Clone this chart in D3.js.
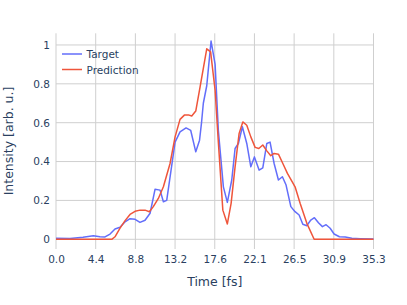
<script src="https://cdnjs.cloudflare.com/ajax/libs/d3/7.8.5/d3.min.js"></script>
<style>
  body { margin: 0; background: #fff; }
  text { font-family: "DejaVu Sans", sans-serif; fill: #2a3f5f; }
</style>
<svg id="chart" width="407" height="305"></svg>
<script>
// values
const targetTime = [0, 1.56, 3.00, 4.15, 4.89, 5.45, 6.01, 6.56, 7.12, 7.68, 8.23, 8.79, 9.34, 9.90,
  10.46, 11.01, 11.57, 11.94, 12.31, 13.24, 13.79, 14.46, 14.98, 15.54, 15.96, 16.18, 16.38, 16.76,
  17.24, 17.69, 18.05, 18.61, 19.05, 19.54, 19.91, 20.28, 20.72, 21.21, 21.66, 22.06, 22.58, 22.99,
  23.44, 23.80, 24.25, 24.73, 25.17, 25.58, 26.11, 26.58, 27.03, 27.44, 27.89, 28.33, 28.73, 29.18,
  29.62, 30.03, 30.48, 30.92, 31.51, 32.15, 32.89, 33.82, 35.3];
const targetValues = [0.005, 0.004, 0.01, 0.018, 0.013, 0.012, 0.027, 0.053, 0.062, 0.09, 0.106, 0.103, 0.087, 0.098,
  0.134, 0.257, 0.253, 0.193, 0.20, 0.50, 0.553, 0.573, 0.56, 0.45, 0.51, 0.60, 0.70, 0.79,
  1.02, 0.90, 0.56, 0.27, 0.19, 0.305, 0.467, 0.493, 0.579, 0.493, 0.373, 0.424, 0.356, 0.368,
  0.493, 0.50, 0.39, 0.305, 0.322, 0.279, 0.168, 0.142, 0.125, 0.077, 0.07, 0.099, 0.111, 0.085,
  0.065, 0.075, 0.057, 0.027, 0.013, 0.012, 0.005, 0.003, 0.001];

const predTime = [0, 6.20, 6.56, 7.12, 7.68, 8.23, 8.79, 9.34, 9.90, 10.38, 10.82, 11.38, 11.94, 12.68,
  13.24, 13.79, 14.27, 14.72, 15.09, 15.54, 16.02, 16.38, 16.76, 17.19, 17.69, 18.05, 18.55, 19.05,
  19.47, 19.91, 20.36, 20.77, 21.21, 21.66, 22.14, 22.55, 22.99, 23.44, 23.88, 24.25, 24.73, 25.22,
  25.73, 26.58, 27.14, 27.89, 28.70, 35.3];
const predValues = [0, 0, 0.013, 0.057, 0.096, 0.128, 0.144, 0.15, 0.15, 0.142, 0.168, 0.21, 0.27, 0.39,
  0.527, 0.617, 0.639, 0.64, 0.634, 0.66, 0.784, 0.88, 0.98, 0.964, 0.767, 0.50, 0.15, 0.079,
  0.185, 0.373, 0.545, 0.604, 0.587, 0.527, 0.473, 0.467, 0.485, 0.455, 0.43, 0.442, 0.438, 0.39,
  0.339, 0.27, 0.185, 0.082, 0, 0];

const xTicks = [0, 4.4125, 8.825, 13.2375, 17.65, 22.0625, 26.475, 30.8875, 35.3];
const xTickLabels = ["0.0", "4.4", "8.8", "13.2", "17.6", "22.1", "26.5", "30.9", "35.3"];
const yTicks = [0, 0.2, 0.4, 0.6, 0.8, 1];
const yTickLabels = ["0", "0.2", "0.4", "0.6", "0.8", "1"];

const svg = d3.select("#chart");
const plotLeft = 56, plotRight = 373.5, plotTop = 33.3, plotBottom = 249;

const x = d3.scaleLinear().domain([0, 35.3]).range([plotLeft, plotRight]);
const y = d3.scaleLinear().domain([-0.05, 1.06]).range([plotBottom, plotTop]);

// grid
const grid = svg.append("g").attr("stroke", "#cfcfcf").attr("stroke-width", 1);
grid.selectAll(".vx").data(xTicks).join("line")
  .attr("x1", d => x(d)).attr("x2", d => x(d))
  .attr("y1", plotTop).attr("y2", plotBottom);
grid.selectAll(".hy").data(yTicks).join("line")
  .attr("x1", plotLeft).attr("x2", plotRight)
  .attr("y1", d => y(d)).attr("y2", d => y(d));

// axes (labels only, plotly style)
const xAxis = d3.axisBottom(x).tickValues(xTicks)
  .tickFormat((d, i) => xTickLabels[i]).tickSize(0).tickPadding(7);
svg.append("g").attr("transform", `translate(0,${plotBottom})`).call(xAxis)
  .call(g => g.select(".domain").remove())
  .call(g => g.selectAll("text").attr("font-size", 10.5).attr("fill", "#2a3f5f"));

const yAxis = d3.axisLeft(y).tickValues(yTicks)
  .tickFormat((d, i) => yTickLabels[i]).tickSize(0).tickPadding(6);
svg.append("g").attr("transform", `translate(${plotLeft},0)`).call(yAxis)
  .call(g => g.select(".domain").remove())
  .call(g => g.selectAll("text").attr("font-size", 10.5).attr("fill", "#2a3f5f"));

// lines
const line = d3.line().x(d => x(d[0])).y(d => y(d[1]));
svg.append("path")
  .datum(d3.zip(targetTime, targetValues))
  .attr("fill", "none").attr("stroke", "#636efa").attr("stroke-width", 1.5)
  .attr("stroke-linejoin", "round")
  .attr("d", line);
svg.append("path")
  .datum(d3.zip(predTime, predValues))
  .attr("fill", "none").attr("stroke", "#ef553b").attr("stroke-width", 1.5)
  .attr("stroke-linejoin", "round")
  .attr("d", line);

// axis titles
svg.append("text").attr("x", (plotLeft + plotRight) / 2).attr("y", 286)
  .attr("text-anchor", "middle").attr("font-size", 12.5).text("Time [fs]");
svg.append("text").attr("transform", "translate(13,141) rotate(-90)")
  .attr("text-anchor", "middle").attr("font-size", 12.5).text("Intensity [arb. u.]");

// legend
const legend = [["Target", "#636efa"], ["Prediction", "#ef553b"]];
const lg = svg.append("g");
legend.forEach(([name, color], i) => {
  const ly = 54 + i * 15.5;
  lg.append("line").attr("x1", 62).attr("x2", 82).attr("y1", ly).attr("y2", ly)
    .attr("stroke", color).attr("stroke-width", 1.5);
  lg.append("text").attr("x", 86.5).attr("y", ly + 4).attr("font-size", 10.5).text(name);
});
</script>
